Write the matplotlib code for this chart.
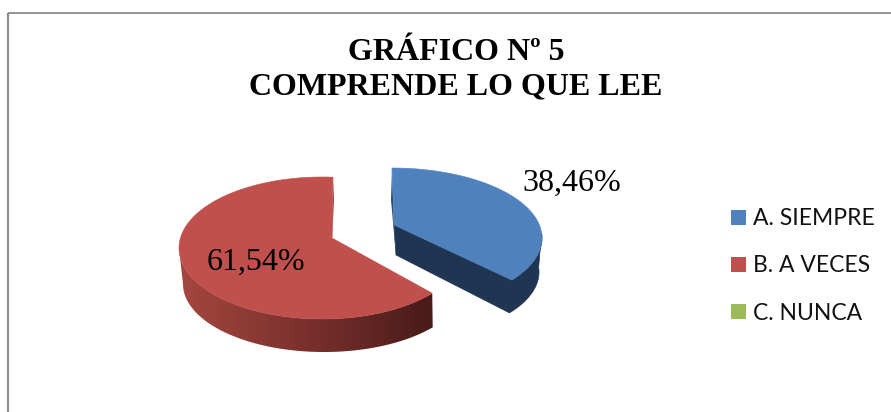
import numpy as np
import matplotlib
matplotlib.use("Agg")
import matplotlib.pyplot as plt
from matplotlib.colors import LinearSegmentedColormap
from matplotlib.patches import Patch, Polygon

W, H = 891, 412

categories = ["A. SIEMPRE", "B. A VECES", "C. NUNCA"]
values = [38.46, 61.54, 0.0]
value_labels = ["38,46%", "61,54%"]
title_lines = ["GRÁFICO Nº 5", "COMPRENDE LO QUE LEE"]
colors = ["#4F81BD", "#C0504D", "#9BBB59"]

# Drawing style of the tilted pie (pixel geometry of each exploded slice)
BLUE = dict(c=(392, 238), a=150, b=70, start=90, stretch=0.917, apex=(394, 225),
            lc=(392, 272), la=147, lb=68)
RED = dict(c=(322, 248), a=143, b=71, start=85.6, stretch=1.06, apex=(332, 238),
           lc=(324, 284), la=141, lb=68)


def arc(c, a, b, t0, t1, n=160):
    t = np.radians(np.linspace(t0, t1, n))
    return np.column_stack([c[0] + a * np.cos(t), c[1] - b * np.sin(t)])


fig = plt.figure(figsize=(W / 100, H / 100), dpi=100)
ax = fig.add_axes([0, 0, 1, 1])
ax.set_xlim(0, W)
ax.set_ylim(H, 0)
ax.axis("off")

# chart frame (only the top and left edges fall inside the crop)
ax.plot([7.5, W], [13, 13], color="#8C8C8C", lw=1.3, solid_capstyle="butt")
ax.plot([7.5, 7.5], [13, H], color="#8C8C8C", lw=1.6, solid_capstyle="butt")

# --- slice A: clockwise from its start angle
sweep_a = values[0] / sum(values) * 360 * BLUE["stretch"]
a_end = BLUE["start"] - sweep_a
top = arc(BLUE["c"], BLUE["a"], BLUE["b"], BLUE["start"], a_end)
lower = arc(BLUE["lc"], BLUE["la"], BLUE["lb"], a_end, 4)
upper_back = arc(BLUE["c"], BLUE["a"], BLUE["b"], 4, a_end)
inner_low = (396, 255)
ax.add_patch(Polygon(np.vstack([[BLUE["apex"], inner_low], lower, upper_back]),
                     closed=True, fc="#1F3552", ec="#1F3552", lw=0.5, zorder=2))
ax.add_patch(Polygon([top[0], BLUE["apex"], inner_low, (391, 200)], closed=True,
                     fc="#2F4B70", ec="none", zorder=2))
ax.add_patch(Polygon(np.vstack([top, [BLUE["apex"]]]), closed=True,
                     fc=colors[0], ec=colors[0], lw=0.4, zorder=3))

# --- slice B: counter-clockwise from its start angle
sweep_b = values[1] / sum(values) * 360 * RED["stretch"]
b_end = RED["start"] + sweep_b
top = arc(RED["c"], RED["a"], RED["b"], RED["start"], b_end)
wall = np.vstack([arc(RED["c"], RED["a"], RED["b"], 180, b_end),
                  arc(RED["lc"], RED["la"], RED["lb"], b_end, 180)])
cmap = LinearSegmentedColormap.from_list("wall", ["#A5473F", "#7A302D", "#471A18"])
grad = ax.imshow(np.linspace(0, 1, 256)[None, :], cmap=cmap, aspect="auto",
                 extent=(178, 436, 360, 240), zorder=2, interpolation="bilinear")
wall_patch = Polygon(wall, closed=True, fc="none", ec="none", transform=ax.transData)
ax.add_patch(wall_patch)
grad.set_clip_path(wall_patch)
ax.add_patch(Polygon([top[0], RED["apex"], (331, 262), (334, 200)], closed=True,
                     fc="#8F3B38", ec="none", zorder=2))
ax.add_patch(Polygon(np.vstack([top, [RED["apex"]]]), closed=True,
                     fc=colors[1], ec=colors[1], lw=0.4, zorder=3))
ax.set_xlim(0, W)
ax.set_ylim(H, 0)

# --- texts
serif = "Liberation Serif"
ax.text(456, 70, "\n".join(title_lines), family=serif, weight="bold", fontsize=23,
        ha="center", va="center", linespacing=1.26, color="black", zorder=5)
ax.text(572, 183.5, value_labels[0], family=serif, fontsize=23, ha="center",
        va="center", color="black", zorder=5)
ax.text(256, 262.5, value_labels[1], family=serif, fontsize=23, ha="center",
        va="center", color="black", zorder=5)

# --- legend
handles = [Patch(fc=col, ec="none", label=lab) for col, lab in zip(colors, categories)]
ax.legend(handles=handles, loc="center left", bbox_to_anchor=(725 / W, 1 - 266 / H),
          frameon=False, prop=dict(family="Lato", size=16.5), handlelength=0.66,
          handleheight=0.66, handletextpad=0.3, labelspacing=1.14, borderpad=0,
          borderaxespad=0.27, labelcolor="#111111")

fig.savefig("out.png", dpi=100)
